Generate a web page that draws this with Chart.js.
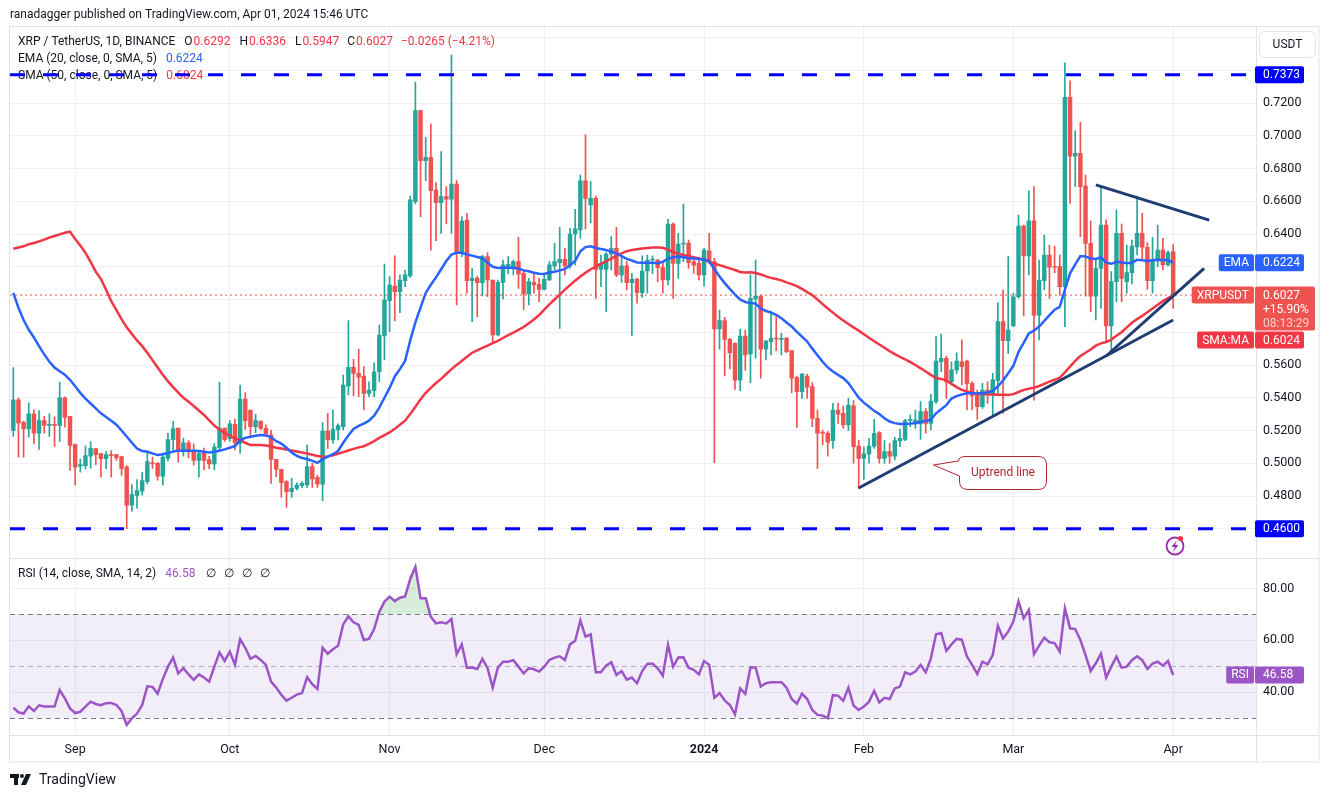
<!DOCTYPE html>
<html>
<head>
<meta charset="utf-8">
<script src="https://cdn.jsdelivr.net/npm/chart.js@4.4.1/dist/chart.umd.min.js"></script>
<style>
  html, body { margin: 0; padding: 0; background: #fff; overflow: hidden; }
  canvas { display: block; }
</style>
</head>
<body>
<canvas id="xrpChart" width="1329" height="798"></canvas>
<script>
// daily candles, Aug 20 2023 -> Apr 01 2024 (candle n is day n)
const open = [.5201,.5388,.5250,.5209,.5302,.5183,.5260,.5231,.5235,.5231,
.5400,.5286,.5114,.4982,.4986,.5043,.5089,.5059,.5028,.5051,
.5053,.5041,.4976,.4744,.4803,.4829,.4888,.5002,.5000,.4921,
.5030,.5144,.5215,.5073,.5124,.5077,.5018,.5069,.5022,.4996,
.5097,.5215,.5150,.5238,.5122,.5392,.5325,.5223,.5258,.5213,
.5173,.5024,.4963,.4888,.4826,.4847,.4863,.4867,.4979,.4914,
.4873,.5197,.5142,.5203,.5223,.5472,.5586,.5549,.5533,.5427,
.5443,.5559,.5777,.5993,.6082,.6048,.6115,.6144,.6598,.7153,
.6848,.6868,.6669,.6591,.6628,.6612,.6705,.6292,.6485,.6115,
.6131,.6103,.6262,.6119,.5783,.6105,.6205,.6201,.6231,.6160,
.6034,.6105,.6093,.6062,.6119,.6205,.6225,.6245,.6205,.6400,
.6425,.6724,.6577,.6618,.6184,.6184,.6278,.6313,.6150,.6205,
.6103,.6125,.6042,.6174,.6241,.6241,.6195,.6119,.6461,.6221,
.6339,.6343,.6231,.6221,.6150,.6298,.6231,.5820,.5871,.5757,
.5732,.5508,.5777,.5667,.6003,.6021,.5696,.5743,.5763,.5757,
.5763,.5688,.5523,.5437,.5533,.5468,.5274,.5189,.5183,.5138,
.5325,.5305,.5234,.5350,.5105,.5030,.5057,.5105,.5187,.5030,
.5071,.5044,.5136,.5146,.5262,.5240,.5240,.5315,.5244,.5376,
.5620,.5641,.5498,.5570,.5620,.5624,.5488,.5427,.5346,.5447,
.5417,.5505,.5865,.5749,.5840,.6017,.6448,.6266,.6481,.5905,
.6115,.6272,.6201,.6201,.6079,.7235,.6876,.6893,.6693,.6343,
.6021,.6190,.6455,.5838,.6109,.6404,.6109,.6164,.6321,.6404,
.6319,.6115,.6245,.6302,.6211,.6292];

const high = [.5585,.5398,.5258,.5369,.5327,.5321,.5286,.5302,.5284,.5495,
.5406,.5286,.5118,.5026,.5107,.5132,.5089,.5059,.5073,.5077,
.5053,.5041,.4986,.4870,.4900,.4945,.5077,.5037,.5006,.5063,
.5185,.5256,.5215,.5154,.5138,.5118,.5077,.5093,.5043,.5120,
.5495,.5215,.5260,.5270,.5478,.5431,.5325,.5301,.5258,.5234,
.5203,.5024,.4963,.4894,.4908,.4881,.4888,.5112,.5000,.4928,
.5248,.5305,.5325,.5240,.5539,.5871,.5635,.5698,.5590,.5498,
.5614,.5844,.6217,.6140,.6266,.6150,.6180,.6632,.7328,.7157,
.6990,.7072,.6714,.6903,.6689,.7493,.6726,.6506,.6526,.6190,
.6143,.6272,.6286,.6119,.6119,.6241,.6262,.6241,.6380,.6180,
.6130,.6160,.6130,.6150,.6231,.6343,.6441,.6313,.6435,.6551,
.6760,.7005,.6720,.6632,.6272,.6286,.6384,.6441,.6262,.6231,
.6160,.6129,.6266,.6272,.6266,.6245,.6225,.6490,.6469,.6404,
.6583,.6363,.6262,.6258,.6313,.6404,.6251,.5936,.5891,.5763,
.5736,.5820,.5814,.6150,.6241,.6027,.5747,.5930,.5895,.5793,
.5769,.5688,.5533,.5549,.5545,.5492,.5325,.5203,.5193,.5366,
.5366,.5350,.5396,.5382,.5142,.5101,.5152,.5268,.5193,.5138,
.5122,.5158,.5207,.5268,.5295,.5325,.5376,.5335,.5421,.5773,
.5789,.5655,.5620,.5675,.5753,.5630,.5498,.5447,.5488,.5498,
.5549,.5981,.6058,.6262,.6038,.6516,.6455,.6663,.6689,.6241,
.6394,.6333,.6327,.6272,.7446,.7336,.7031,.7082,.6760,.6481,
.6241,.6689,.6486,.6170,.6547,.6461,.6333,.6363,.6632,.6526,
.6347,.6380,.6455,.6374,.6298,.6336];

const low = [.5164,.5037,.5037,.5160,.5118,.5085,.5183,.5164,.5103,.5134,
.5221,.4957,.4866,.4945,.4966,.4970,.4992,.4915,.4967,.4915,
.5018,.4925,.4600,.4708,.4726,.4805,.4874,.4969,.4896,.4866,
.5014,.5083,.5006,.5043,.5032,.4988,.4915,.4961,.4967,.4961,
.5073,.5134,.5134,.5081,.5061,.5207,.5162,.5187,.5203,.5166,
.4877,.4918,.4792,.4731,.4792,.4837,.4851,.4853,.4853,.4853,
.4772,.5091,.5122,.5142,.5203,.5417,.5411,.5407,.5325,.5407,
.5407,.5498,.5631,.5804,.5871,.5920,.6079,.6135,.6583,.6506,
.6726,.6302,.6359,.6404,.6461,.6404,.5967,.6262,.6038,.5865,
.5895,.6022,.6017,.5732,.5777,.6003,.6156,.6150,.6068,.5940,
.5967,.6038,.5987,.6058,.6115,.6180,.5824,.6150,.6190,.6211,
.6374,.6429,.6469,.6007,.6078,.5926,.6180,.6140,.6105,.6058,
.5779,.5977,.6013,.6038,.6156,.6109,.6038,.6089,.6007,.6129,
.6231,.6190,.6160,.6119,.6082,.6221,.5004,.5696,.5533,.5574,
.5451,.5443,.5569,.5492,.5641,.5519,.5631,.5661,.5688,.5661,
.5675,.5431,.5219,.5396,.5396,.5223,.4969,.5112,.5044,.5091,
.5244,.5213,.5199,.5000,.4847,.4902,.5000,.5091,.5000,.5000,
.5000,.5020,.5101,.5138,.5223,.5213,.5146,.5183,.5203,.5366,
.5559,.5396,.5478,.5549,.5478,.5325,.5325,.5268,.5335,.5366,
.5295,.5427,.5305,.5671,.5834,.6007,.5899,.6150,.5386,.5753,
.6058,.6007,.6164,.6027,.5834,.6587,.6689,.6384,.6021,.5925,
.5875,.5946,.5742,.5671,.5987,.5987,.6038,.6095,.6272,.6241,
.6062,.6038,.6201,.6180,.6205,.5947];

const close = [.5388,.5246,.5209,.5302,.5183,.5260,.5231,.5235,.5231,.5400,
.5280,.5109,.4976,.4992,.5047,.5091,.5053,.5028,.5053,.5047,
.5032,.4968,.4744,.4809,.4833,.4894,.5010,.4996,.4921,.5037,
.5144,.5211,.5083,.5124,.5069,.5018,.5059,.5018,.4996,.5099,
.5215,.5144,.5240,.5125,.5392,.5260,.5223,.5260,.5213,.5179,
.5024,.4963,.4882,.4826,.4847,.4867,.4877,.4979,.4904,.4873,
.5197,.5142,.5207,.5230,.5478,.5586,.5549,.5525,.5427,.5447,
.5559,.5783,.5997,.6089,.6048,.6119,.6150,.6608,.7153,.6848,
.6868,.6665,.6591,.6628,.6612,.6705,.6292,.6479,.6115,.6131,
.6103,.6262,.6119,.5783,.6105,.6211,.6215,.6231,.6154,.6034,
.6109,.6089,.6062,.6123,.6211,.6231,.6245,.6205,.6400,.6431,
.6724,.6618,.6618,.6184,.6221,.6278,.6313,.6150,.6205,.6103,
.6125,.6042,.6174,.6241,.6247,.6195,.6119,.6461,.6221,.6339,
.6343,.6225,.6209,.6150,.6302,.6231,.5820,.5871,.5757,.5675,
.5508,.5777,.5661,.6007,.6021,.5696,.5747,.5763,.5759,.5761,
.5681,.5519,.5437,.5545,.5464,.5274,.5183,.5183,.5128,.5325,
.5299,.5234,.5356,.5101,.5030,.5057,.5105,.5183,.5030,.5071,
.5044,.5138,.5152,.5260,.5268,.5264,.5315,.5244,.5380,.5624,
.5641,.5498,.5570,.5624,.5590,.5488,.5411,.5346,.5447,.5417,
.5509,.5865,.5749,.5814,.6017,.6448,.6266,.6481,.5905,.6119,
.6272,.6197,.6197,.6079,.7235,.6876,.6893,.6689,.6343,.6021,
.6190,.6455,.5838,.6109,.6404,.6129,.6164,.6327,.6404,.6319,
.6115,.6245,.6302,.6211,.6286,.6027];

const ema20 = [.6040,.5950,.5875,.5815,.5768,.5715,.5665,.5620,.5585,.5562,
.5540,.5510,.5470,.5430,.5395,.5365,.5335,.5305,.5283,.5260,
.5235,.5200,.5163,.5125,.5090,.5075,.5070,.5060,.5050,.5055,
.5062,.5072,.5077,.5077,.5077,.5076,.5075,.5070,.5066,.5070,
.5076,.5085,.5095,.5105,.5140,.5155,.5162,.5168,.5172,.5170,
.5160,.5135,.5120,.5095,.5065,.5045,.5032,.5026,.5015,.5002,
.5025,.5040,.5055,.5075,.5125,.5170,.5210,.5228,.5242,.5260,
.5290,.5340,.5400,.5460,.5530,.5575,.5625,.5750,.5860,.5950,
.6040,.6090,.6135,.6185,.6235,.6275,.6285,.6285,.6275,.6268,
.6260,.6252,.6225,.6200,.6192,.6194,.6195,.6193,.6190,.6178,
.6172,.6163,.6157,.6156,.6165,.6170,.6178,.6185,.6210,.6235,
.6295,.6320,.6325,.6315,.6308,.6302,.6292,.6282,.6265,.6248,
.6238,.6226,.6225,.6225,.6224,.6222,.6230,.6250,.6258,.6262,
.6258,.6252,.6250,.6247,.6245,.6233,.6185,.6140,.6100,.6065,
.6030,.6000,.5985,.5978,.5975,.5945,.5930,.5920,.5907,.5885,
.5860,.5835,.5803,.5773,.5743,.5700,.5660,.5620,.5585,.5560,
.5540,.5520,.5490,.5445,.5400,.5370,.5345,.5320,.5300,.5275,
.5255,.5245,.5240,.5240,.5242,.5246,.5252,.5258,.5266,.5305,
.5330,.5355,.5395,.5410,.5420,.5427,.5427,.5428,.5428,.5432,
.5442,.5470,.5505,.5550,.5595,.5680,.5735,.5793,.5810,.5835,
.5870,.5905,.5938,.5955,.6060,.6160,.6215,.6265,.6262,.6250,
.6248,.6258,.6225,.6218,.6230,.6228,.6222,.6225,.6242,.6240,
.6235,.6240,.6242,.6240,.6242,.6224];

const sma50 = [.6310,.6318,.6325,.6338,.6345,.6355,.6366,.6378,.6388,.6398,
.6408,.6414,.6370,.6330,.6285,.6230,.6170,.6125,.6060,.5990,
.5935,.5880,.5830,.5790,.5750,.5715,.5675,.5630,.5585,.5540,
.5500,.5465,.5432,.5400,.5375,.5350,.5322,.5295,.5262,.5230,
.5205,.5185,.5168,.5150,.5142,.5125,.5112,.5111,.5111,.5108,
.5102,.5095,.5090,.5084,.5078,.5072,.5066,.5060,.5052,.5044,
.5040,.5042,.5048,.5058,.5068,.5078,.5088,.5097,.5104,.5118,
.5135,.5155,.5172,.5188,.5210,.5235,.5260,.5300,.5345,.5390,
.5430,.5460,.5490,.5515,.5545,.5575,.5600,.5625,.5650,.5675,
.5690,.5705,.5718,.5733,.5748,.5765,.5782,.5798,.5815,.5832,
.5855,.5878,.5905,.5938,.5970,.6000,.6030,.6060,.6088,.6115,
.6140,.6163,.6185,.6200,.6218,.6233,.6250,.6268,.6282,.6295,
.6302,.6307,.6312,.6315,.6317,.6317,.6316,.6305,.6290,.6280,
.6272,.6265,.6258,.6250,.6245,.6228,.6220,.6210,.6200,.6190,
.6180,.6168,.6165,.6166,.6162,.6153,.6141,.6132,.6125,.6117,
.6105,.6094,.6082,.6065,.6045,.6027,.6000,.5972,.5945,.5920,
.5895,.5872,.5850,.5830,.5810,.5788,.5766,.5745,.5725,.5705,
.5685,.5667,.5650,.5635,.5618,.5600,.5580,.5560,.5540,.5520,
.5515,.5505,.5485,.5465,.5448,.5438,.5430,.5426,.5423,.5421,
.5420,.5419,.5418,.5417,.5422,.5435,.5448,.5455,.5462,.5472,
.5485,.5498,.5510,.5522,.5555,.5590,.5625,.5655,.5675,.5695,
.5718,.5732,.5740,.5755,.5778,.5800,.5830,.5858,.5880,.5900,
.5922,.5945,.5968,.5990,.6008,.6024];

const rsi14 = [34.0,32.2,31.7,34.5,32.7,34.9,34.4,34.4,34.4,40.8,
37.6,33.7,31.9,32.4,34.4,36.3,35.4,34.9,35.7,35.8,
35.0,32.7,27.3,29.9,31.7,35.0,42.2,42.0,39.4,45.0,
49.8,53.3,47.2,49.2,46.8,44.7,46.8,45.6,44.0,49.8,
55.3,52.0,55.6,50.5,60.4,57.1,52.8,53.9,52.4,50.5,
44.0,41.7,38.9,36.7,37.8,39.0,39.6,45.7,43.0,41.2,
57.1,54.8,56.5,57.9,66.1,69.2,66.9,65.9,60.1,60.5,
64.3,71.0,74.9,76.8,75.1,76.4,76.9,83.6,88.3,76.2,
76.2,69.0,66.5,66.9,66.5,68.2,54.6,58.4,49.4,49.5,
48.9,52.8,49.2,41.7,49.4,51.7,51.7,52.3,49.8,47.2,
49.2,48.8,47.9,49.8,52.4,53.3,53.8,52.4,58.4,59.8,
67.6,61.4,62.3,47.6,47.6,50.2,51.5,46.6,48.1,44.8,
45.6,43.4,48.1,50.8,51.0,49.2,46.3,58.2,49.8,53.3,
53.4,49.4,48.6,46.8,52.0,50.5,37.8,39.6,36.8,35.0,
31.4,41.4,39.3,49.5,49.5,42.1,43.4,43.8,43.8,43.8,
41.7,37.3,35.5,39.4,37.3,33.1,31.2,30.9,29.9,38.8,
38.6,36.6,41.7,34.8,33.1,34.4,36.3,40.4,36.0,37.8,
37.3,41.4,42.1,47.6,46.8,47.9,50.5,47.6,53.0,62.3,
62.8,55.9,58.4,60.5,60.2,53.7,50.5,47.0,51.7,50.7,
54.3,65.6,60.7,63.3,67.2,75.1,68.5,71.7,54.6,57.9,
61.0,59.2,58.9,55.6,72.3,64.6,64.3,60.1,54.3,48.1,
51.1,54.8,45.6,49.8,53.7,49.4,49.8,52.3,53.8,52.3,
48.9,51.0,51.7,50.2,52.0,46.58];

// drawn levels and trend lines (day number, price)
const levelTop = 0.7373;
const levelBottom = 0.46;
const lastPrice = 0.6027;
const uptrendDays = [165, 226];
const uptrendPrices = [0.4849, 0.5875];
const steepDays = [213, 232];
const steepPrices = [0.5655, 0.6190];
const upperDays = [211, 233];
const upperPrices = [0.6700, 0.6485];

// axis ticks
const monthDays = [13, 43, 74, 104, 135, 166, 195, 226];
const monthNames = ['Sep', 'Oct', 'Nov', 'Dec', '2024', 'Feb', 'Mar', 'Apr'];
const priceTicks = [0.46, 0.48, 0.50, 0.52, 0.54, 0.56, 0.58, 0.60, 0.62, 0.64, 0.66, 0.68, 0.70, 0.72, 0.74, 0.76];
const hiddenPriceTicks = [0.46, 0.58, 0.60, 0.62, 0.74, 0.76];
const rsiTicks = [40, 60, 80];

const FONT = 'Roboto, "Noto Sans", sans-serif';
const TXT = '#131722';
const GREEN = '#26a69a';
const RED = '#ef5350';
const GRID = '#eef0f4';
const EDGE = '#e0e3eb';
const RSI_C = '#9c55c6';
const TREND = '#1f3c73';

Chart.defaults.font.family = FONT;
Chart.defaults.font.size = 12.5;
Chart.defaults.color = TXT;

const X_MIN = 0.36, X_MAX = 242.07;

const candleColor = close.map((c, i) => c >= open[i] ? GREEN : RED);
const wickData = high.map((h, i) => ({x: i + 1, y: [low[i], h]}));
const bodyData = close.map((c, i) => ({x: i + 1, y: [open[i], c]}));
const pts = (arr) => arr.map((v, i) => ({x: i + 1, y: v}));
const seg = (xs, ys) => xs.map((x, i) => ({x: x, y: ys[i]}));
const hline = (v) => [{x: X_MIN, y: v}, {x: X_MAX, y: v}];

function roundBox(ctx, x, y, w, h, r) {
    ctx.beginPath();
    ctx.moveTo(x + r, y);
    ctx.lineTo(x + w - r, y);
    ctx.quadraticCurveTo(x + w, y, x + w, y + r);
    ctx.lineTo(x + w, y + h - r);
    ctx.quadraticCurveTo(x + w, y + h, x + w - r, y + h);
    ctx.lineTo(x + r, y + h);
    ctx.quadraticCurveTo(x, y + h, x, y + h - r);
    ctx.lineTo(x, y + r);
    ctx.quadraticCurveTo(x, y, x + r, y);
    ctx.closePath();
}

const drawPieces = (ctx, x, y, pieces) => {
    pieces.forEach(p => {
        ctx.fillStyle = p[1];
        ctx.fillText(p[0], x, y);
        x += ctx.measureText(p[0]).width + p[2];
    });
}

// name tag left of the axis + value tag on the axis
const axisTag = (ctx, chart, yMid, name, value, bg, valueH, valueW) => {
    const axisX = chart.chartArea.right;
    const h = 17;
    ctx.font = '12px ' + FONT;
    ctx.textBaseline = 'middle';
    if (name) {
        const w = ctx.measureText(name).width + 10;
        ctx.fillStyle = bg;
        roundBox(ctx, axisX - 2 - w, yMid - h / 2, w, h, 2);
        ctx.fill();
        ctx.fillStyle = '#fff';
        ctx.fillText(name, axisX - 2 - w + 5, yMid + 0.5);
    }
    ctx.fillStyle = bg;
    roundBox(ctx, axisX - 1, yMid - h / 2, valueW || 49, valueH || h, 2);
    ctx.fill();
    ctx.fillStyle = '#fff';
    ctx.fillText(value, axisX + 7, yMid + 0.5);
}

const tvDecor = {
    id: 'tvDecor',
    beforeDraw(chart) {
        const ctx = chart.ctx;
        ctx.save();
        ctx.fillStyle = '#fff';
        ctx.fillRect(0, 0, chart.width, chart.height);
        ctx.font = '12px ' + FONT;
        ctx.textBaseline = 'middle';
        ctx.fillStyle = TXT;
        ctx.fillText('ranadagger published on TradingView.com, Apr 01, 2024 15:46 UTC', 10, 15);
        ctx.restore();
    },
    beforeDatasetsDraw(chart) {
        const ctx = chart.ctx;
        const area = chart.chartArea;
        const r = chart.scales.yRsi;
        ctx.save();
        // RSI band
        ctx.fillStyle = 'rgba(126, 87, 194, 0.1)';
        const y70 = r.getPixelForValue(70), y30 = r.getPixelForValue(30), y50 = r.getPixelForValue(50);
        ctx.fillRect(area.left, y70, area.right - area.left, y30 - y70);
        ctx.lineWidth = 1;
        ctx.setLineDash([5, 4]);
        [[y70, '#787b86'], [y50, '#b2b5be'], [y30, '#787b86']].forEach(l => {
            ctx.strokeStyle = l[1];
            ctx.beginPath();
            ctx.moveTo(area.left, Math.round(l[0]) + 0.5);
            ctx.lineTo(area.right, Math.round(l[0]) + 0.5);
            ctx.stroke();
        });
        ctx.setLineDash([]);

        // legends
        ctx.font = '12px ' + FONT;
        ctx.textBaseline = 'middle';
        const pr = '#f23645';
        drawPieces(ctx, 18, 42, [['XRP / TetherUS, 1D, BINANCE', TXT, 9], ['O', TXT, 1], ['0.6292', pr, 9],
            ['H', TXT, 1], ['0.6336', pr, 9], ['L', TXT, 1], ['0.5947', pr, 8], ['C', TXT, 1], ['0.6027', pr, 8],
            ['\u22120.0265 (\u22124.21%)', pr, 0]]);
        drawPieces(ctx, 18, 59, [['EMA (20, close, 0, SMA, 5)', TXT, 9], ['0.6224', '#2962ff', 0]]);
        drawPieces(ctx, 18, 76, [['SMA (50, close, 0, SMA, 5)', TXT, 9], ['0.6024', '#f23645', 0]]);
        drawPieces(ctx, 18, 574, [['RSI (14, close, SMA, 14, 2)', TXT, 9], ['46.58', RSI_C, 11],
            ['\u2205', TXT, 8], ['\u2205', TXT, 8], ['\u2205', TXT, 8], ['\u2205', TXT, 0]]);
        ctx.restore();
    },
    afterDraw(chart) {
        const ctx = chart.ctx;
        const area = chart.chartArea;
        const y = chart.scales.y, r = chart.scales.yRsi;
        const right = 1319, bottom = 762, left = 9.5, top = 26.5;
        ctx.save();
        // frame and pane separators
        ctx.strokeStyle = EDGE;
        ctx.lineWidth = 1;
        ctx.strokeRect(left, top, right - left, bottom - top);
        const sep = Math.round(y.bottom) + 0.5;
        ctx.beginPath();
        ctx.moveTo(left, sep); ctx.lineTo(right, sep);
        ctx.moveTo(left, Math.round(area.bottom) + 0.5); ctx.lineTo(right, Math.round(area.bottom) + 0.5);
        ctx.moveTo(Math.round(area.right) + 0.5, top); ctx.lineTo(Math.round(area.right) + 0.5, bottom);
        ctx.stroke();

        // USDT box
        ctx.fillStyle = '#fff';
        roundBox(ctx, 1259.5, 31.5, 56, 26, 6);
        ctx.fill();
        ctx.stroke();
        ctx.font = '12px ' + FONT;
        ctx.textBaseline = 'middle';
        ctx.textAlign = 'center';
        ctx.fillStyle = TXT;
        ctx.fillText('USDT', 1287.5, 45);
        ctx.textAlign = 'left';

        // axis tags
        axisTag(ctx, chart, y.getPixelForValue(levelTop), null, '0.7373', '#0000ff');
        axisTag(ctx, chart, y.getPixelForValue(levelBottom), null, '0.4600', '#0000ff');
        axisTag(ctx, chart, y.getPixelForValue(0.6224), 'EMA', '0.6224', '#2962ff');
        const yLast = y.getPixelForValue(lastPrice);
        axisTag(ctx, chart, yLast, 'XRPUSDT', '0.6027', RED, 44, 60);
        ctx.fillStyle = '#fff';
        ctx.fillText('+15.90%', area.right + 7, yLast + 14.5);
        ctx.fillStyle = 'rgba(255,255,255,0.72)';
        ctx.fillText('08:13:29', area.right + 7, yLast + 29);
        axisTag(ctx, chart, yLast + 45, 'SMA:MA', '0.6024', '#f23645');
        axisTag(ctx, chart, r.getPixelForValue(46.58), 'RSI', '46.58', RSI_C);

        // callout
        ctx.beginPath();
        ctx.moveTo(966, 456.5);
        ctx.lineTo(1038, 456.5);
        ctx.quadraticCurveTo(1046.5, 456.5, 1046.5, 465);
        ctx.lineTo(1046.5, 481);
        ctx.quadraticCurveTo(1046.5, 489.5, 1038, 489.5);
        ctx.lineTo(968, 489.5);
        ctx.quadraticCurveTo(959.5, 489.5, 959.5, 481);
        ctx.lineTo(959.5, 476);
        ctx.lineTo(933.5, 465);
        ctx.lineTo(958.5, 461);
        ctx.quadraticCurveTo(958.5, 456.5, 966, 456.5);
        ctx.closePath();
        ctx.fillStyle = '#fff';
        ctx.fill();
        ctx.strokeStyle = '#b22833';
        ctx.stroke();
        ctx.fillStyle = '#b22833';
        ctx.textAlign = 'center';
        ctx.fillText('Uptrend line', 1003, 473);
        ctx.textAlign = 'left';

        // lightning badge
        ctx.strokeStyle = '#9c27b0';
        ctx.lineWidth = 1.8;
        ctx.beginPath();
        ctx.arc(1175, 546, 8.5, 0, Math.PI * 2);
        ctx.stroke();
        ctx.fillStyle = '#9c27b0';
        ctx.beginPath();
        ctx.moveTo(1177, 540); ctx.lineTo(1171.5, 547); ctx.lineTo(1175, 547);
        ctx.lineTo(1173, 552); ctx.lineTo(1178.5, 545); ctx.lineTo(1175, 545);
        ctx.closePath();
        ctx.fill();
        ctx.fillStyle = '#f23645';
        ctx.beginPath();
        ctx.arc(1180.5, 538.5, 2.6, 0, Math.PI * 2);
        ctx.fill();

        // watermark logo
        ctx.fillStyle = TXT;
        ctx.fillRect(10, 774, 9, 4);
        ctx.fillRect(14, 774, 4, 11);
        ctx.beginPath();
        ctx.arc(22, 776, 2, 0, Math.PI * 2);
        ctx.fill();
        ctx.beginPath();
        ctx.moveTo(26, 774); ctx.lineTo(31, 774); ctx.lineTo(26, 785); ctx.lineTo(21, 785);
        ctx.closePath();
        ctx.fill();
        ctx.font = '14px ' + FONT;
        ctx.fillText('TradingView', 39, 780);
        ctx.restore();
    }
};

const chart = new Chart(document.getElementById('xrpChart'), {
    type: 'bar',
    data: {
        datasets: [
            {type: 'line', data: seg(uptrendDays, uptrendPrices), yAxisID: 'y', borderColor: TREND, borderWidth: 3, pointRadius: 0, order: 0},
            {type: 'line', data: seg(steepDays, steepPrices), yAxisID: 'y', borderColor: TREND, borderWidth: 3, pointRadius: 0, order: 0},
            {type: 'line', data: seg(upperDays, upperPrices), yAxisID: 'y', borderColor: TREND, borderWidth: 3, pointRadius: 0, order: 0},
            {type: 'line', data: pts(ema20), yAxisID: 'y', borderColor: '#2962ff', borderWidth: 2.5, pointRadius: 0, order: 1},
            {type: 'line', data: pts(sma50), yAxisID: 'y', borderColor: '#f23645', borderWidth: 2.5, pointRadius: 0, order: 1},
            {type: 'line', data: hline(levelTop), yAxisID: 'y', borderColor: '#0000ff', borderWidth: 3, borderDash: [15, 18], pointRadius: 0, order: 2},
            {type: 'line', data: hline(levelBottom), yAxisID: 'y', borderColor: '#0000ff', borderWidth: 3, borderDash: [15, 18], pointRadius: 0, order: 2},
            {type: 'line', data: hline(lastPrice), yAxisID: 'y', borderColor: RED, borderWidth: 1, borderDash: [2, 3], pointRadius: 0, order: 5},
            {data: bodyData, yAxisID: 'y', backgroundColor: candleColor, barThickness: 3.8, minBarLength: 1, grouped: false, order: 3},
            {data: wickData, yAxisID: 'y', backgroundColor: candleColor, barThickness: 1, grouped: false, order: 4},
            {type: 'line', data: pts(rsi14), yAxisID: 'yRsi', borderColor: RSI_C, borderWidth: 2.5, pointRadius: 0, order: 1,
             fill: {target: {value: 70}, above: 'rgba(76, 175, 80, 0.22)', below: 'rgba(0,0,0,0)'}},
            {type: 'line', data: pts(rsi14), yAxisID: 'yRsi', borderWidth: 0, borderColor: 'rgba(0,0,0,0)', pointRadius: 0, order: 6,
             fill: {target: {value: 30}, above: 'rgba(0,0,0,0)', below: 'rgba(242, 54, 69, 0.15)'}}
        ]
    },
    options: {
        responsive: false,
        animation: false,
        layout: {padding: {left: 10, right: 10, top: 26.5, bottom: 36}},
        plugins: {legend: {display: false}, tooltip: {enabled: false}},
        scales: {
            x: {
                type: 'linear', min: X_MIN, max: X_MAX, offset: false,
                afterBuildTicks: (s) => { s.ticks = monthDays.map(v => ({value: v})); },
                afterFit: (s) => { s.height = 27; },
                ticks: {
                    autoSkip: false, maxRotation: 0, padding: 7, color: TXT,
                    callback: (v) => monthNames[monthDays.indexOf(v)],
                    font: (c) => ({family: FONT, size: 12.5, weight: c.tick && c.tick.label === '2024' ? 'bold' : 'normal'})
                },
                grid: {color: GRID, drawTicks: false, offset: false},
                border: {display: false}
            },
            y: {
                type: 'linear', position: 'right', stack: 'panes', stackWeight: 531.5, weight: 1,
                min: 0.44214, max: 0.76672,
                afterBuildTicks: (s) => { s.ticks = priceTicks.map(v => ({value: v})); },
                afterFit: (s) => { s.width = 63; },
                ticks: {
                    padding: 7, color: TXT,
                    callback: (v) => hiddenPriceTicks.some(h => Math.abs(h - v) < 1e-6) ? '' : v.toFixed(4)
                },
                grid: {color: GRID, drawTicks: false},
                border: {display: false}
            },
            yRsi: {
                type: 'linear', position: 'right', stack: 'panes', stackWeight: 177, weight: 2,
                min: 23.43, max: 91.72,
                afterBuildTicks: (s) => { s.ticks = rsiTicks.map(v => ({value: v})); },
                afterFit: (s) => { s.width = 63; },
                ticks: {padding: 7, color: TXT, callback: (v) => v.toFixed(2)},
                grid: {color: GRID, drawTicks: false},
                border: {display: false}
            }
        }
    },
    plugins: [tvDecor]
});
</script>
</body>
</html>
